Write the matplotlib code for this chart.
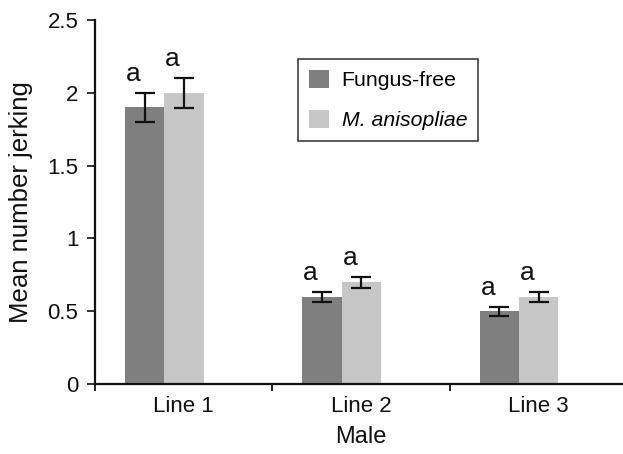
import matplotlib
matplotlib.use("Agg")
import matplotlib.pyplot as plt
from matplotlib.patches import Patch
import numpy as np

plt.rcParams['font.family'] = ['Liberation Sans', 'DejaVu Sans']

categories = ["Line 1", "Line 2", "Line 3"]
fungus_free = [1.9, 0.6, 0.5]
fungus_free_err = [0.10, 0.034, 0.03]
anisopliae = [2.0, 0.7, 0.6]
anisopliae_err = [0.105, 0.038, 0.034]
letters_ff = ["a", "a", "a"]
letters_ma = ["a", "a", "a"]
yticks = [0, 0.5, 1, 1.5, 2, 2.5]
ytick_labels = ["0", "0.5", "1", "1.5", "2", "2.5"]

dark = "#7f7f7f"
light = "#c5c6c5"

fig = plt.figure(figsize=(6.23, 4.54), dpi=100)
ax = fig.add_axes([95/623, 70/454, 532/623, 364/454])

idx = np.arange(len(categories))
w = 0.222
x_ff = idx + 0.169 + w/2
x_ma = idx + 0.169 + w + w/2

ax.bar(x_ff, fungus_free, width=w, color=dark, edgecolor='none', label="Fungus-free", zorder=2)
ax.bar(x_ma, anisopliae, width=w, color=light, edgecolor='none', label="M. anisopliae", zorder=2)
ekw = dict(fmt='none', ecolor='#111111', elinewidth=1.6, capsize=7, capthick=1.6, zorder=3)
ax.errorbar(x_ff, fungus_free, yerr=fungus_free_err, **ekw)
ax.errorbar(x_ma, anisopliae, yerr=anisopliae_err, **ekw)

for xs, vals, errs, labs in [(x_ff, fungus_free, fungus_free_err, letters_ff),
                              (x_ma, anisopliae, anisopliae_err, letters_ma)]:
    for xv, v, e, t in zip(xs, vals, errs, labs):
        ax.text(xv - 0.065, v + e + 0.08, t, ha='center', va='baseline', fontsize=19, color='#111111')

ax.set_xlim(0, 3)
ax.set_ylim(0, 2.5)
ax.set_yticks(yticks)
ax.set_yticklabels(ytick_labels)
ax.set_xticks([0, 1, 2, 3])
ax.set_xticklabels([])
ax.set_xticks(idx + 0.5, minor=True)
ax.set_xticklabels(categories, minor=True)
ax.tick_params(axis='y', direction='out', length=6, width=1.2, labelsize=16, pad=6, colors='#111111')
ax.tick_params(axis='x', which='major', direction='out', length=5, width=1.2)
ax.tick_params(axis='x', which='minor', length=0, labelsize=16, pad=9, colors='#111111')

for s in ['top', 'right']:
    ax.spines[s].set_visible(False)
for s in ['left', 'bottom']:
    ax.spines[s].set_linewidth(1.6)
    ax.spines[s].set_color('#111111')

ax.set_ylabel("Mean number jerking", fontsize=18.5, color='#111111')
ax.yaxis.set_label_coords((33-95)/532, 0.5)
ax.set_xlabel("Male", fontsize=17, color='#111111')
ax.xaxis.set_label_coords((361-95)/532, (384-426)/364)

handles = [Patch(facecolor=dark, edgecolor='none'), Patch(facecolor=light, edgecolor='none')]
leg = ax.legend(handles, ["Fungus-free", "M. anisopliae"], loc='upper left',
                bbox_to_anchor=((298-95)/532, (384-59)/364), borderaxespad=0,
                fontsize=15.3, handlelength=0.95, handleheight=0.95, handletextpad=0.6,
                labelspacing=0.92, borderpad=0.5, frameon=True, fancybox=False)
leg.get_frame().set_edgecolor('#111111')
leg.get_frame().set_linewidth(1.2)
leg.get_texts()[1].set_fontstyle('italic')

fig.savefig("out.png", dpi=100)
